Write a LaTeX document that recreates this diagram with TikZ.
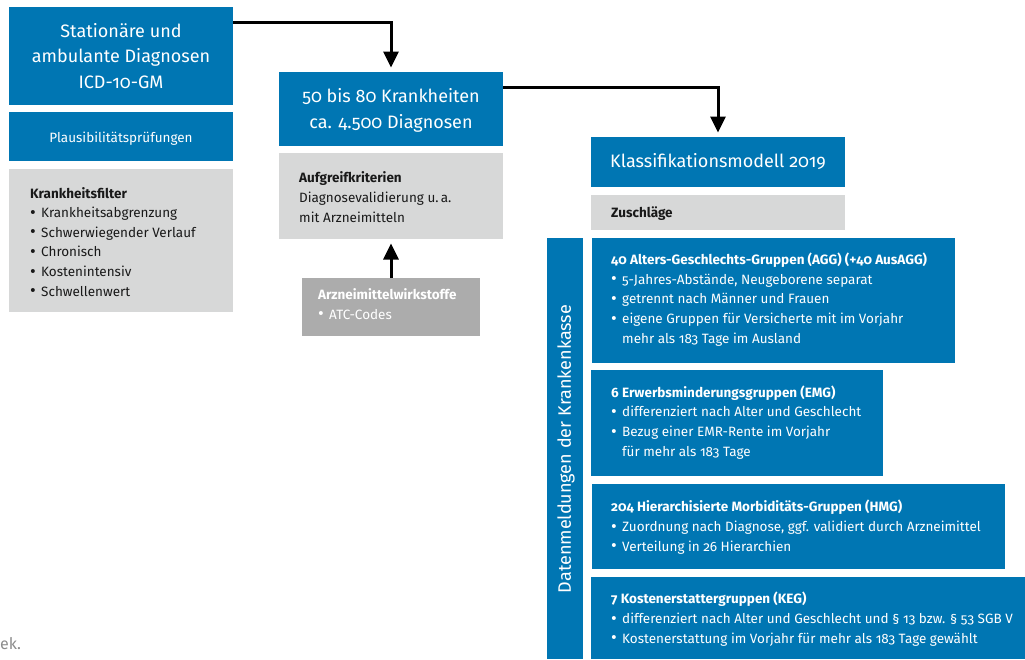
\documentclass[tikz,border=0pt]{standalone}
\usepackage{fontspec}
\usepackage{graphicx}
\setmainfont{Fira Sans}[Numbers=OldStyle]
\usetikzlibrary{arrows.meta,calc}
\definecolor{bkblue}{RGB}{0,118,179}
\definecolor{bkgrey}{RGB}{215,216,216}
\definecolor{bkdgrey}{RGB}{172,172,172}
\definecolor{captgrey}{RGB}{140,140,140}
\definecolor{bktext}{RGB}{25,25,25}
\newcommand\bl{\makebox[11pt][l]{\raisebox{-0.6pt}{\scalebox{1.3}{\textbullet}}}}
\newcommand\blc{\hspace*{11pt}}
\begin{document}
\begin{tikzpicture}[x=1pt,y=-1pt,
  bluebox/.style={fill=bkblue, draw=none, anchor=north west, inner sep=0pt, outer sep=0pt},
  greybox/.style={fill=bkgrey, draw=none, anchor=north west, inner sep=0pt, outer sep=0pt},
  dgreybox/.style={fill=bkdgrey, draw=none, anchor=north west, inner sep=0pt, outer sep=0pt},
  ttl/.style={text=white, align=center, inner sep=0pt, anchor=base, font=\fontsize{18}{25.5}\selectfont},
  body/.style={align=left, inner sep=0pt, anchor=base west, font=\fontsize{13.5}{19.6}\selectfont},
  wbody/.style={body, text=white},
  kbody/.style={body, text=bktext},
  arr/.style={line width=3pt, -{Triangle[width=15pt,length=16pt]}, shorten >=4.5pt}]
\useasboundingbox (0,0) rectangle (1025,659);

% left column
\node[bluebox, minimum width=224pt, minimum height=98pt] (A) at (9,7) {};
\node[bluebox, minimum width=224pt, minimum height=49pt] (P) at (9,112) {};
\node[greybox, minimum width=224pt, minimum height=143pt] (K) at (9,169) {};
\node[ttl] (At) at (121,88) {Stationäre und\\ambulante Diagnosen\\ICD-10-GM};
\node[wbody, anchor=base, align=center, font=\fontsize{13.5}{18}\selectfont] (Pt) at (121,142) {Plausibilitätsprüfungen};
\node[kbody] (Kt) at (30,296) {{\bfseries Krankheitsfilter}\\
  \bl Krankheitsabgrenzung\\
  \bl Schwerwiegender Verlauf\\
  \bl Chronisch\\
  \bl Kostenintensiv\\
  \bl Schwellenwert};

% middle column
\node[bluebox, minimum width=224pt, minimum height=74pt] (B) at (279,72) {};
\node[greybox, minimum width=224pt, minimum height=86pt] (G) at (279,153) {};
\node[dgreybox, minimum width=178pt, minimum height=58pt] (Z) at (302,278) {};
\node[ttl] (Bt) at (391,128) {50 bis 80 Krankheiten\\ca. 4.500 Diagnosen};
\node[kbody] (Gt) at (299,222) {{\bfseries Aufgreifkriterien}\\Diagnosevalidierung u.\,a.\\mit Arzneimitteln};
\node[wbody] (Zt) at (318,319) {{\bfseries Arzneimittelwirkstoffe}\\\bl ATC-Codes};

% right column
\node[bluebox, minimum width=254pt, minimum height=50pt] (C) at (591,137) {};
\node[greybox, minimum width=254pt, minimum height=35pt] (S) at (591,195) {};
\node[bluebox, minimum width=36pt, minimum height=421pt] (V) at (547,238) {};
\node[bluebox, minimum width=363pt, minimum height=125pt] (R1) at (592,238) {};
\node[bluebox, minimum width=292pt, minimum height=106pt] (R2) at (591,370) {};
\node[bluebox, minimum width=413pt, minimum height=85pt] (R3) at (592,484) {};
\node[bluebox, minimum width=434pt, minimum height=82pt] (R4) at (591,577) {};
\node[ttl] (Ct) at (718,167) {Klassifikationsmodell 2019};
\node[kbody] (St) at (611,217) {\bfseries Zuschläge};
\node[text=white, rotate=90, inner sep=0pt, font=\fontsize{18}{22}\selectfont] (Vt) at (566,449) {Datenmeldungen der Krankenkasse};
\node[wbody] (R1t) at (611,343) {{\bfseries 40 Alters-Geschlechts-Gruppen (AGG) (+40 AusAGG)}\\
  \bl 5-Jahres-Abstände, Neugeborene separat\\
  \bl getrennt nach Männer und Frauen\\
  \bl eigene Gruppen für Versicherte mit im Vorjahr\\
  \blc mehr als 183 Tage im Ausland};
\node[wbody] (R2t) at (611,456) {{\bfseries 6 Erwerbsminderungsgruppen (EMG)}\\
  \bl differenziert nach Alter und Geschlecht\\
  \bl Bezug einer EMR-Rente im Vorjahr\\
  \blc für mehr als 183 Tage};
\node[wbody] (R3t) at (611,551) {{\bfseries 204 Hierarchisierte Morbiditäts-Gruppen (HMG)}\\
  \bl Zuordnung nach Diagnose, ggf. validiert durch Arzneimittel\\
  \bl Verteilung in 26 Hierarchien};
\node[wbody] (R4t) at (611,643) {{\bfseries 7 Kostenerstattergruppen (KEG)}\\
  \bl differenziert nach Alter und Geschlecht und § 13 bzw. § 53 SGB V\\
  \bl Kostenerstattung im Vorjahr für mehr als 183 Tage gewählt};

% caption fragment
\node[anchor=base west, inner sep=0pt, text=captgrey, font=\fontsize{16}{18}\selectfont] (cap) at (0,649) {ek.};

% connectors
\draw[arr] ([yshift=-15.5pt]A.north east) -| (B.north);
\draw[arr] ([yshift=-15.5pt]B.north east) -| (C.north);
\draw[arr] (Z.north) -- (G.south);
\end{tikzpicture}
\end{document}
